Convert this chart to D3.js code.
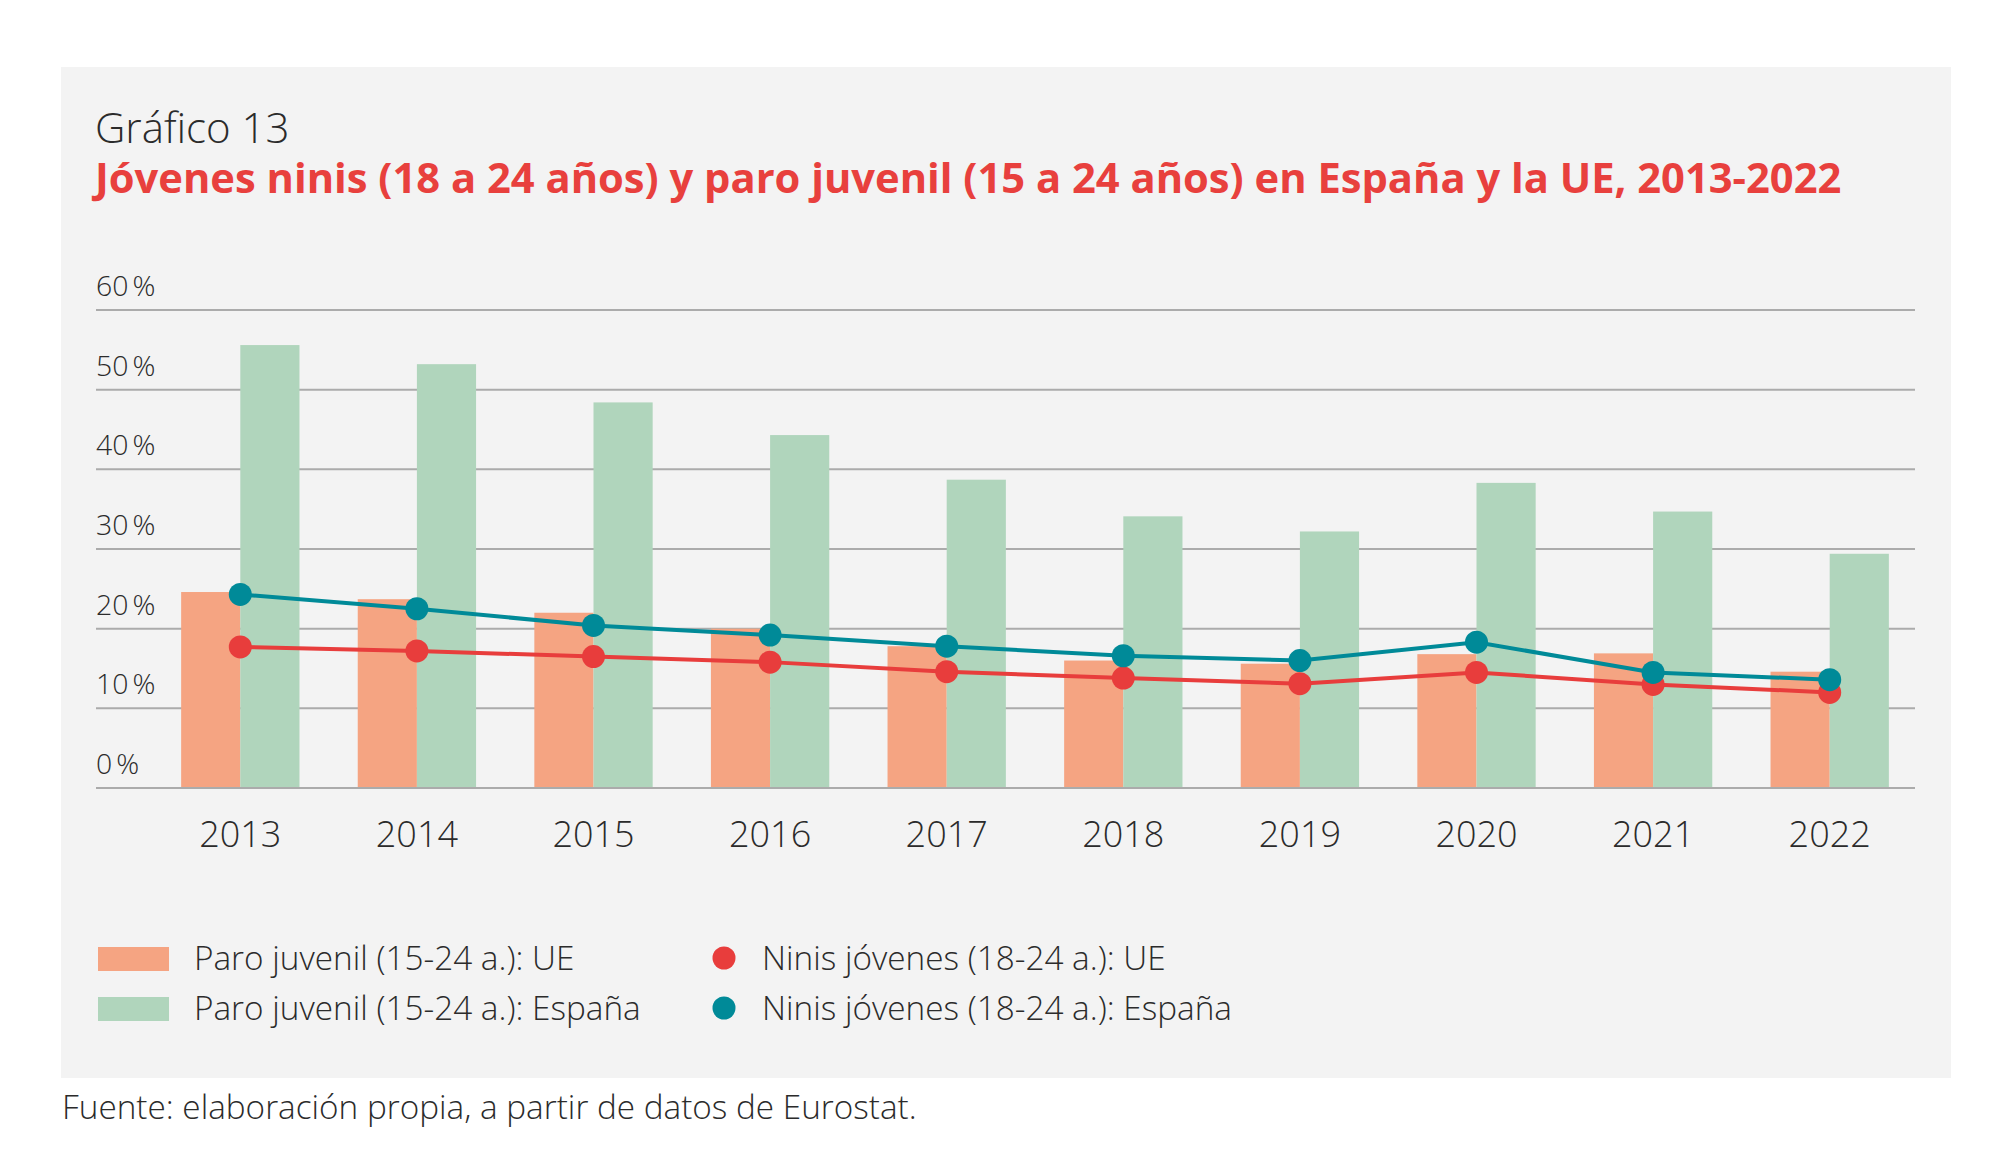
<!DOCTYPE html>
<html>
<head>
<meta charset="utf-8">
<script src="https://cdn.jsdelivr.net/npm/d3@7"></script>
<style>
  html, body { margin: 0; padding: 0; background: #ffffff; }
  svg { display: block; font-family: "Open Sans", "Noto Sans", sans-serif; }
</style>
</head>
<body>
<svg id="chart" width="2016" height="1173"></svg>
<script>
// ---- data ----
const years = ["2013","2014","2015","2016","2017","2018","2019","2020","2021","2022"];
const paroUE     = [24.6, 23.7, 22.0, 20.0, 17.8, 16.0, 15.6, 16.8, 16.9, 14.6];
const paroEspana = [55.6, 53.2, 48.4, 44.3, 38.7, 34.1, 32.2, 38.3, 34.7, 29.4];
const ninisUE     = [17.7, 17.2, 16.5, 15.8, 14.6, 13.8, 13.1, 14.5, 13.0, 12.0];
const ninisEspana = [24.3, 22.5, 20.4, 19.2, 17.8, 16.6, 16.0, 18.3, 14.5, 13.6];
const yTicks = [0, 10, 20, 30, 40, 50, 60];
const legendBars = ["Paro juvenil (15-24 a.): UE", "Paro juvenil (15-24 a.): España"];
const legendDots = ["Ninis jóvenes (18-24 a.): UE", "Ninis jóvenes (18-24 a.): España"];

const C = {
  orange: "#F5A482", green: "#B0D5BC", red: "#E83D3C", teal: "#008A98",
  grid: "#ABABAB", text: "#2B2B2B", panel: "#F3F3F3", title: "#E8403D"
};

const svg = d3.select("#chart");

// panel
svg.append("rect").attr("x", 61).attr("y", 67).attr("width", 1890).attr("height", 1011).attr("fill", C.panel);

// titles
svg.append("text").attr("x", 95).attr("y", 143)
  .attr("font-size", 42).attr("font-weight", 300).attr("fill", C.text).text("Gráfico 13");
svg.append("text").attr("x", 95).attr("y", 193)
  .attr("font-size", 41.7).attr("font-weight", 700).attr("fill", C.title)
  .text("Jóvenes ninis (18 a 24 años) y paro juvenil (15 a 24 años) en España y la UE, 2013-2022");

// scales
const y = d3.scaleLinear().domain([0, 60]).range([788, 310]);
const x = d3.scaleBand().domain(years).range([152, 1918]).paddingInner(0.33).paddingOuter(0.165);
const half = x.bandwidth() / 2;
const cx = d => x(d) + half;

// gridlines + y labels
const grid = svg.append("g");
grid.selectAll("line").data(yTicks).join("line")
  .attr("x1", 96).attr("x2", 1915)
  .attr("y1", d => y(d)).attr("y2", d => y(d))
  .attr("stroke", C.grid).attr("stroke-width", 2);
const yl = grid.selectAll("text").data(yTicks).join("text")
  .attr("x", 96).attr("y", d => y(d) - 14)
  .attr("font-size", 28.4).attr("font-weight", 300).attr("fill", C.text);
yl.append("tspan").text(d => d);
yl.append("tspan").attr("dx", 4).text("%");

// bars
const bars = svg.append("g");
bars.selectAll("rect.ue").data(years).join("rect").attr("class", "ue")
  .attr("x", d => x(d)).attr("width", half)
  .attr("y", (d, i) => y(paroUE[i])).attr("height", (d, i) => y(0) - y(paroUE[i]))
  .attr("fill", C.orange);
bars.selectAll("rect.es").data(years).join("rect").attr("class", "es")
  .attr("x", d => x(d) + half).attr("width", half)
  .attr("y", (d, i) => y(paroEspana[i])).attr("height", (d, i) => y(0) - y(paroEspana[i]))
  .attr("fill", C.green);

// zero line on top of bars
svg.append("line").attr("x1", 96).attr("x2", 1915).attr("y1", y(0)).attr("y2", y(0))
  .attr("stroke", C.grid).attr("stroke-width", 2);

// lines
function drawSeries(vals, color) {
  const line = d3.line().x((d, i) => cx(years[i])).y(d => y(d));
  svg.append("path").datum(vals).attr("d", line)
    .attr("fill", "none").attr("stroke", color).attr("stroke-width", 4);
  svg.append("g").selectAll("circle").data(vals).join("circle")
    .attr("cx", (d, i) => cx(years[i])).attr("cy", d => y(d)).attr("r", 11.5)
    .attr("fill", color);
}
drawSeries(ninisUE, C.red);
drawSeries(ninisEspana, C.teal);

// x labels
svg.append("g").selectAll("text").data(years).join("text")
  .attr("x", d => cx(d)).attr("y", 847).attr("text-anchor", "middle")
  .attr("font-size", 36).attr("font-weight", 300).attr("fill", C.text)
  .text(d => d);

// legend
const lg = svg.append("g");
const barColors = [C.orange, C.green];
const dotColors = [C.red, C.teal];
legendBars.forEach((t, i) => {
  lg.append("rect").attr("x", 98).attr("y", 947 + i * 50).attr("width", 71).attr("height", 24).attr("fill", barColors[i]);
  lg.append("text").attr("x", 194).attr("y", 970 + i * 50)
    .attr("font-size", 33.3).attr("font-weight", 300).attr("fill", C.text).text(t);
});
legendDots.forEach((t, i) => {
  lg.append("circle").attr("cx", 724).attr("cy", 958 + i * 50).attr("r", 11.5).attr("fill", dotColors[i]);
  lg.append("text").attr("x", 762).attr("y", 970 + i * 50)
    .attr("font-size", 33.3).attr("font-weight", 300).attr("fill", C.text).text(t);
});

// source
svg.append("text").attr("x", 62).attr("y", 1119)
  .attr("font-size", 33.3).attr("font-weight", 300).attr("fill", C.text)
  .text("Fuente: elaboración propia, a partir de datos de Eurostat.");
</script>
</body>
</html>
